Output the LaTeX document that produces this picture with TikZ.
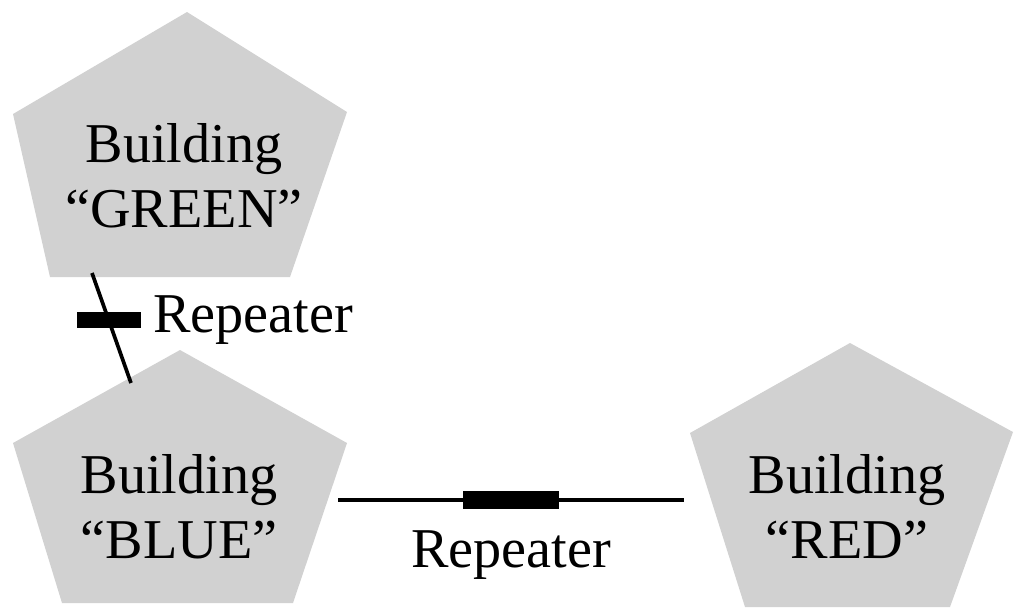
\documentclass[tikz,border=0pt]{standalone}
\usepackage{fontspec}
\setmainfont{Liberation Serif}
\newcommand\bldgfont{\fontsize{32}{37}\selectfont}
\begin{document}
\begin{tikzpicture}[x=0.02cm,y=-0.02cm]
      \tikzstyle{bldg}=[fill=black!18,draw=none]
      \tikzstyle{bldglabel}=[align=center,inner sep=0pt,font=\bldgfont,anchor=base]
      \tikzstyle{link}=[line width=2.1pt]
      \tikzstyle{vbar}=[fill=black,inner sep=0pt,minimum width=1.28cm,minimum height=0.32cm]
      \tikzstyle{hbar}=[fill=black,inner sep=0pt,minimum width=1.94cm,minimum height=0.36cm]

      \useasboundingbox (0,0) rectangle (1015,610);

      % buildings
      \fill[bldg] (187,12) -- (347,112) -- (290,277) -- (50,277) -- (13,114) -- cycle;
      \fill[bldg] (180,350) -- (347,443) -- (293,603) -- (62,603) -- (13,443) -- cycle;
      \fill[bldg] (850,343) -- (1013,432) -- (950,607) -- (745,607) -- (690,433) -- cycle;

      \node[bldglabel] (green) at (184,227) {Building\\``GREEN''};
      \node[bldglabel] (blue) at (179,558) {Building\\``BLUE''};
      \node[bldglabel] (red) at (847,558) {Building\\``RED''};

      % links
      \coordinate (green-s) at (92,273);
      \coordinate (blue-n) at (131,383);
      \coordinate (blue-e) at (338,500);
      \coordinate (red-w) at (684,500);

      \draw[link] (green-s) -- node[pos=.43,vbar] (rep1) {} (blue-n);
      \draw[link] (blue-e) -- node[hbar] (rep2) {} (red-w);

      \node[font=\bldgfont,inner sep=0pt,anchor=base west] (rep1-lbl) at (153,332) {Repeater};
      \node[font=\bldgfont,inner sep=0pt,anchor=base] (rep2-lbl) at (511,567) {Repeater};
\end{tikzpicture}
\end{document}
